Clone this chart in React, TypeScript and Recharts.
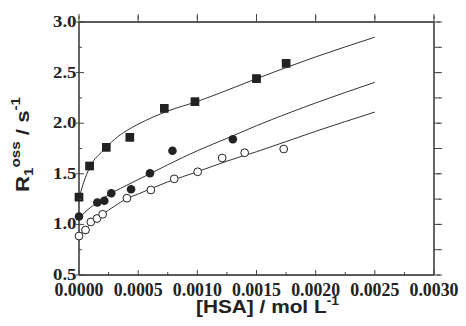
import React from "react";
import { ComposedChart, XAxis, YAxis, Scatter, Line, ReferenceLine } from "recharts";

const squareX = [0, 0.00009, 0.00023, 0.00043, 0.00072, 0.00098, 0.0015, 0.00175];
const squareY = [1.27, 1.577, 1.762, 1.861, 2.147, 2.212, 2.44, 2.592];

const filledX = [0, 0.000155, 0.000214, 0.000273, 0.00044, 0.0006, 0.00079, 0.0013];
const filledY = [1.078, 1.216, 1.234, 1.308, 1.347, 1.505, 1.728, 1.842];

const openX = [0, 0.000055, 0.0001, 0.000152, 0.0002, 0.000405, 0.000607, 0.000805, 0.001003, 0.00121, 0.0014, 0.00173];
const openY = [0.885, 0.945, 1.024, 1.058, 1.1, 1.259, 1.34, 1.45, 1.52, 1.656, 1.708, 1.745];

// Fitted curves
const fitX = [0, 0.00005, 0.0001, 0.0002, 0.0003, 0.0004, 0.0005, 0.00075, 0.001, 0.00125, 0.0015, 0.002, 0.0025];
const fitSquareY = [1.26, 1.45, 1.585, 1.725, 1.84, 1.925, 1.99, 2.12, 2.215, 2.325, 2.44, 2.655, 2.85];
const fitFilledY = [1.06, 1.12, 1.17, 1.255, 1.325, 1.385, 1.443, 1.589, 1.728, 1.85, 1.975, 2.2, 2.404];
const fitOpenY = [0.88, 0.95, 1.01, 1.1, 1.18, 1.252, 1.3, 1.42, 1.52, 1.625, 1.718, 1.92, 2.11];

const xTicks = [0, 0.00025, 0.0005, 0.00075, 0.001, 0.00125, 0.0015, 0.00175, 0.002, 0.00225, 0.0025, 0.00275, 0.003];
const yTicks = [0.5, 0.75, 1.0, 1.25, 1.5, 1.75, 2.0, 2.25, 2.5, 2.75, 3.0];
const xDomain = [0, 0.003];
const yDomain = [0.5, 3.0];

const zip = (xs: number[], ys: number[]) => xs.map((x, i) => ({ x, y: ys[i] }));
const squareData = zip(squareX, squareY);
const filledData = zip(filledX, filledY);
const openData = zip(openX, openY);
const fitSquare = zip(fitX, fitSquareY);
const fitFilled = zip(fitX, fitFilledY);
const fitOpen = zip(fitX, fitOpenY);

const AX = "#444";
const isMajorX = (v: number) => Math.abs(v / 0.0005 - Math.round(v / 0.0005)) < 1e-6;
const isMajorY = (v: number) => Math.abs(v / 0.5 - Math.round(v / 0.5)) < 1e-6;
const tickFont = { fontFamily: "'Liberation Serif', 'Times New Roman', serif", fontWeight: 700, fill: "#222" };

const LeftTick = (p: any) => {
  const { x, y, payload } = p;
  const major = isMajorY(payload.value);
  return (
    <g>
      <line x1={x} x2={x + (major ? 5 : 3)} y1={y} y2={y} stroke={AX} strokeWidth={1} />
      {major && <line x1={x - 3} x2={x} y1={y} y2={y} stroke={AX} strokeWidth={1} />}
      {major && (
        <text x={x - 26} y={y + 5} textAnchor="start" fontSize={16} textLength={23.5} lengthAdjust="spacingAndGlyphs" {...tickFont}>
          {payload.value.toFixed(1)}
        </text>
      )}
    </g>
  );
};

const RightTick = (p: any) => {
  const { x, y, payload } = p;
  const major = isMajorY(payload.value);
  return <line x1={x} x2={x - (major ? 5 : 3)} y1={y} y2={y} stroke={AX} strokeWidth={1} />;
};

const BottomTick = (p: any) => {
  const { x, y, payload } = p;
  const major = isMajorX(payload.value);
  return (
    <g>
      <line x1={x} x2={x} y1={y} y2={y - (major ? 5 : 3)} stroke={AX} strokeWidth={1} />
      {major && (
        <text x={x - 24.5} y={y + 21} textAnchor="start" fontSize={18} textLength={49} lengthAdjust="spacingAndGlyphs" {...tickFont}>
          {payload.value.toFixed(4)}
        </text>
      )}
    </g>
  );
};

const TopTick = (p: any) => {
  const { x, y, payload } = p;
  const major = isMajorX(payload.value);
  return <line x1={x} x2={x} y1={y} y2={y + (major ? 5 : 3)} stroke={AX} strokeWidth={1} />;
};

const titleFont = { fontFamily: "'Liberation Sans', Arial, sans-serif", fontWeight: 700, fill: "#222" };

const XTitle = () => (
  <text x={196} y={313} textAnchor="start" fontSize={18} textLength={143} lengthAdjust="spacingAndGlyphs" {...titleFont}>
    [HSA] / mol L<tspan fontSize={12} dy={-8}>-1</tspan>
  </text>
);

const YTitle = () => (
  <text transform="translate(29,192) rotate(-90)" x={0} y={0} textAnchor="start" fontSize={19} textLength={95} lengthAdjust="spacingAndGlyphs" {...titleFont}>
    R<tspan fontSize={13} dy={4}>1</tspan>
    <tspan fontSize={13} dy={-13}>oss</tspan>
    <tspan dy={9}> / s</tspan>
    <tspan fontSize={13} dy={-9}>-1</tspan>
  </text>
);

const Square = (p: any) => <rect x={p.cx - 4.2} y={p.cy - 4.2} width={8.4} height={8.4} fill="#222" />;
const Filled = (p: any) => <circle cx={p.cx} cy={p.cy} r={4.3} fill="#222" />;
const Open = (p: any) => <circle cx={p.cx} cy={p.cy} r={3.9} fill="#fff" stroke="#222" strokeWidth={1} />;

export default function App() {
  return (
    <div style={{ position: "absolute", left: 0, top: 0, background: "#fff" }}>
      <ComposedChart width={466} height={326} margin={{ top: 0, right: 0, bottom: 0, left: 0 }}>
        <XAxis
          dataKey="x"
          type="number"
          domain={xDomain}
          ticks={xTicks}
          interval={0}
          height={51}
          tickSize={0}
          tickMargin={0}
          tickLine={false}
          stroke={AX}
          tick={<BottomTick />}
          label={<XTitle />}
        />
        <XAxis
          xAxisId="top"
          orientation="top"
          dataKey="x"
          type="number"
          domain={xDomain}
          ticks={xTicks}
          height={22}
          stroke={AX}
          tick={<TopTick />}
        />
        <YAxis
          dataKey="y"
          type="number"
          domain={yDomain}
          ticks={yTicks}
          interval={0}
          width={79}
          tickSize={0}
          tickMargin={0}
          tickLine={false}
          stroke={AX}
          tick={<LeftTick />}
          label={<YTitle />}
        />
        <YAxis
          yAxisId="right"
          orientation="right"
          dataKey="y"
          type="number"
          domain={yDomain}
          ticks={yTicks}
          width={32}
          stroke={AX}
          tick={<RightTick />}
        />
        <ReferenceLine x={xDomain[0]} stroke={AX} strokeWidth={1.3} ifOverflow="visible" />
        <ReferenceLine x={xDomain[1]} stroke={AX} strokeWidth={1.3} ifOverflow="visible" />
        <ReferenceLine y={yDomain[0]} stroke={AX} strokeWidth={1.3} ifOverflow="visible" />
        <ReferenceLine y={yDomain[1]} stroke={AX} strokeWidth={1.3} ifOverflow="visible" />
        <Line data={fitSquare} dataKey="y" type="monotone" stroke="#333" strokeWidth={1} dot={false} isAnimationActive={false} />
        <Line data={fitFilled} dataKey="y" type="monotone" stroke="#333" strokeWidth={1} dot={false} isAnimationActive={false} />
        <Line data={fitOpen} dataKey="y" type="monotone" stroke="#333" strokeWidth={1} dot={false} isAnimationActive={false} />
        <Scatter xAxisId="top" yAxisId="right" data={squareData} dataKey="y" shape={<Square />} isAnimationActive={false} />
        <Scatter data={squareData} dataKey="y" shape={<Square />} isAnimationActive={false} />
        <Scatter data={filledData} dataKey="y" shape={<Filled />} isAnimationActive={false} />
        <Scatter data={openData} dataKey="y" shape={<Open />} isAnimationActive={false} />
      </ComposedChart>
    </div>
  );
}
